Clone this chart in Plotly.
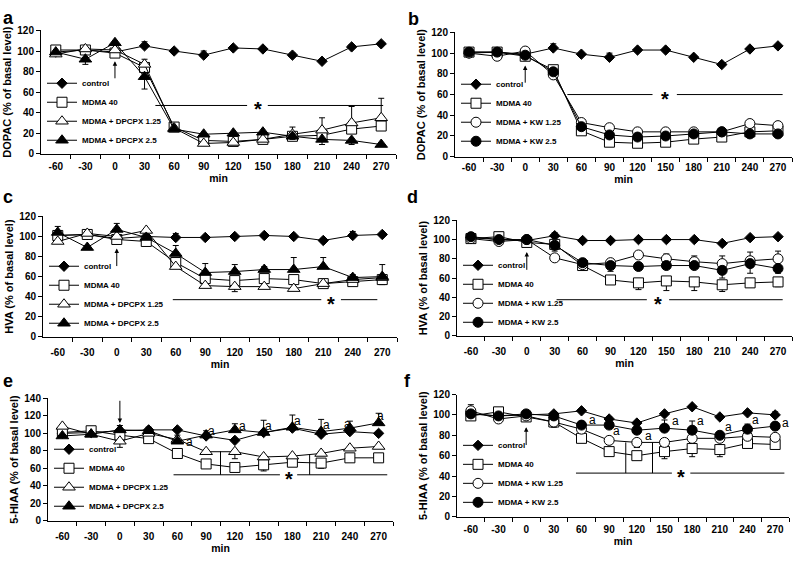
import plotly.graph_objects as go

W, H = 793, 561
FONT = "Liberation Sans"

minutes = [-60, -30, 0, 30, 60, 90, 120, 150, 180, 210, 240, 270]
tick_labels = ["-60", "-30", "0", "30", "60", "90", "120", "150", "180", "210", "240", "270"]

names_dpcpx = ["control", "MDMA 40", "MDMA + DPCPX 1.25", "MDMA + DPCPX 2.5"]
names_kw = ["control", "MDMA 40", "MDMA + KW 1.25", "MDMA + KW 2.5"]

# ---- Panel a: DOPAC, DPCPX
a_control = [99, 101, 99, 105, 100, 96, 103, 102, 96, 90, 104, 107]
a_mdma = [101, 101, 98, 84, 26, 13, 12, 14, 17, 18, 24, 27]
a_low = [97, 102, 101, 87, 25, 10, 11, 14, 19, 23, 30, 35]
a_high = [99, 92, 108, 75, 24, 19, 20, 21, 17, 14, 13, 9]
a_control_up = [2, 1, 1, 4, 1, 4, 1, 1, 2, 1, 2, 1]
a_mdma_up = [0, 0, 0, 0, 0, 0, 0, 0, 9, 0, 0, 0]
a_low_up = [0, 0, 0, 5, 0, 0, 0, 0, 0, 12, 16, 19]
a_low_down = [0, 0, 0, 0, 0, 2, 2, 0, 0, 0, 0, 0]
a_high_down = [0, 5, 0, 12, 0, 0, 0, 0, 3, 5, 4, 0]

# ---- Panel b: DOPAC, KW
b_control = [100, 101, 99, 105, 99, 96, 103, 103, 96, 89, 104, 107]
b_mdma = [101, 101, 97, 84, 25, 14, 13, 14, 17, 19, 24, 25]
b_low = [100, 97, 102, 79, 33, 28, 24, 24, 24, 24, 32, 30]
b_high = [101, 101, 98, 82, 29, 21, 19, 20, 22, 24, 22, 22]
b_control_up = [1, 1, 1, 4, 1, 4, 1, 1, 1, 1, 1, 1]
b_mdma_up = [0, 0, 0, 0, 0, 0, 0, 0, 0, 2, 0, 0]

# ---- Panel c: HVA, DPCPX
c_control = [101, 102, 98, 100, 99, 99, 100, 101, 100, 96, 101, 102]
c_mdma = [101, 102, 97, 95, 74, 58, 56, 58, 57, 53, 55, 57]
c_low = [95, 103, 100, 106, 70, 51, 50, 50, 48, 53, 57, 59]
c_high = [104, 89, 107, 99, 83, 64, 65, 67, 67, 70, 59, 60]
c_control_up = [1, 1, 1, 1, 4, 1, 1, 1, 1, 2, 4, 1]
c_mdma_down = [0, 0, 0, 0, 0, 0, 0, 0, 0, 0, 2, 5]
c_low_down = [0, 0, 0, 0, 0, 0, 5, 0, 0, 0, 0, 0]
c_high_up = [6, 0, 6, 0, 8, 9, 7, 3, 12, 9, 3, 12]

# ---- Panel d: HVA, KW
d_control = [102, 100, 99, 104, 99, 99, 100, 100, 100, 96, 102, 103]
d_mdma = [101, 103, 97, 95, 73, 58, 55, 57, 56, 53, 55, 56]
d_low = [101, 98, 100, 81, 74, 76, 84, 80, 77, 75, 78, 80]
d_high = [103, 100, 100, 94, 76, 73, 72, 73, 73, 68, 75, 70]
d_control_up = [1, 1, 1, 3, 1, 2, 1, 1, 1, 1, 1, 1]
d_mdma_down = [0, 0, 3, 0, 0, 2, 7, 10, 9, 7, 3, 5]
d_low_up = [0, 0, 0, 0, 0, 2, 0, 5, 6, 8, 9, 8]
d_high_down = [0, 0, 0, 6, 0, 6, 0, 0, 0, 8, 10, 5]

# ---- Panel e: 5-HIAA, DPCPX
e_control = [100, 101, 103, 104, 104, 97, 92, 101, 106, 99, 102, 100]
e_mdma = [101, 103, 98, 94, 77, 65, 61, 64, 67, 66, 72, 72]
e_low = [108, 99, 91, 100, 93, 79, 79, 73, 74, 77, 83, 85]
e_high = [97, 99, 104, 103, 91, 98, 104, 101, 107, 102, 106, 112]
e_mdma_down = [0, 0, 0, 0, 0, 0, 4, 7, 0, 6, 0, 0]
e_low_down = [0, 0, 7, 0, 0, 0, 8, 0, 0, 0, 0, 0]
e_high_up = [0, 0, 5, 4, 7, 5, 7, 14, 14, 14, 8, 11]

# ---- Panel f: 5-HIAA, KW
f_control = [101, 99, 100, 101, 104, 96, 92, 101, 108, 98, 102, 100]
f_mdma = [99, 103, 98, 93, 77, 64, 60, 64, 67, 66, 72, 71]
f_low = [104, 96, 99, 93, 86, 75, 73, 73, 77, 77, 79, 78]
f_high = [101, 99, 101, 99, 90, 90, 85, 87, 85, 80, 86, 89]
f_control_up = [0, 0, 0, 0, 0, 2, 0, 0, 0, 0, 0, 3]
f_mdma_down = [0, 0, 0, 5, 0, 0, 3, 7, 8, 7, 0, 0]
f_low_up = [6, 0, 0, 0, 0, 0, 0, 0, 0, 0, 0, 0]
f_low_down = [0, 0, 0, 0, 0, 0, 5, 0, 0, 0, 0, 0]
f_high_up = [0, 0, 0, 0, 0, 0, 0, 8, 9, 3, 5, 0]

# significance markers: line y, segments [x0, x1], star (x, y), verticals (x, ytop)
sig_a = dict(y=47, segs=[(41, 134), (155, 272)], star=(145, 47), vert=[])
sig_b = dict(y=60, segs=[(45, 136), (162, 275)], star=(149, 60), vert=[])
sig_c = dict(y=37, segs=[(57, 208), (228, 265)], star=(218, 37), vert=[])
sig_d = dict(y=37.5, segs=[(32, 129), (153, 275)], star=(141, 37.5), vert=[])
sig_e = dict(y=52.6, segs=[(56, 167), (185, 279)], star=(176, 52.6), vert=[(105, 79.5), (198, 76)])
sig_f = dict(y=42.9, segs=[(54, 158), (178, 280)], star=(168, 42.9), vert=[(108, 73), (137, 73)])

# injection arrows: (head y, tail y)
arrow_a = (90, 72)
arrow_b = (88, 70)
arrow_c = (88, 69)
arrow_d = (87, 67)
arrow_e = (112, 139)
arrow_f = (88, 69)

# "a" labels (x in min, y)
a_marks_e_x = [73, 96, 128, 155, 185, 216, 238, 272]
a_marks_e_y = [90, 103, 109, 109, 114, 110, 111, 120]
a_marks_f_x = [72, 98, 133, 162, 189, 219, 249, 281]
a_marks_f_y = [95, 84.5, 79, 94, 94, 88, 95, 92]

def mk(symbol, size, fill):
    return dict(symbol=symbol, size=size, color=fill, line=dict(color="black", width=1))

styles_dpcpx = [mk("diamond", 8, "black"), mk("square", 10, "white"),
                mk("triangle-up", 11, "white"), mk("triangle-up", 11, "black")]
styles_kw = [mk("diamond", 8, "black"), mk("square", 10, "white"),
             mk("circle", 10, "white"), mk("circle", 10, "black")]

Z = None

panels = [
    dict(letter="a", xpx=(41, 396), ypx=(25, 151), ymax=120, ytitle="DOPAC (% of basal level)",
         names=names_dpcpx, styles=styles_dpcpx,
         series=[(a_control, a_control_up, Z), (a_mdma, a_mdma_up, Z), (a_low, a_low_up, a_low_down), (a_high, Z, a_high_down)],
         sig=sig_a, arrow=arrow_a, amarks=None, lpos=(42, 152), letterpos=(8, 12), lab_off=3),
    dict(letter="b", xpx=(455, 792), ypx=(27, 154), ymax=120, ytitle="DOPAC (% of basal level)",
         names=names_kw, styles=styles_kw,
         series=[(b_control, b_control_up, Z), (b_mdma, b_mdma_up, Z), (b_low, Z, Z), (b_high, Z, Z)],
         sig=sig_b, arrow=arrow_b, amarks=None, lpos=(456, 153), letterpos=(413, 13), lab_off=1),
    dict(letter="c", xpx=(43, 397), ypx=(215, 338), ymax=120, ytitle="HVA (% of basal level)",
         names=names_dpcpx, styles=styles_dpcpx,
         series=[(c_control, c_control_up, Z), (c_mdma, Z, c_mdma_down), (c_low, Z, c_low_down), (c_high, c_high_up, Z)],
         sig=sig_c, arrow=arrow_c, amarks=None, lpos=(44, 339), letterpos=(8, 195), lab_off=6),
    dict(letter="d", xpx=(457, 792), ypx=(219, 337), ymax=120, ytitle="HVA (% of basal level)",
         names=names_kw, styles=styles_kw,
         series=[(d_control, d_control_up, Z), (d_mdma, Z, d_mdma_down), (d_low, d_low_up, Z), (d_high, Z, d_high_down)],
         sig=sig_d, arrow=arrow_d, amarks=None, lpos=(458, 338), letterpos=(412, 195), lab_off=6),
    dict(letter="e", xpx=(48, 393), ypx=(401, 526), ymax=140, ytitle="5-HIAA (% of basal level)",
         names=names_dpcpx, styles=styles_dpcpx,
         series=[(e_control, Z, Z), (e_mdma, Z, e_mdma_down), (e_low, Z, e_low_down), (e_high, e_high_up, Z)],
         sig=sig_e, arrow=arrow_e, amarks=(a_marks_e_x, a_marks_e_y), lpos=(49, 526), letterpos=(8, 383), lab_off=6),
    dict(letter="f", xpx=(457, 789), ypx=(397, 522), ymax=120, ytitle="5-HIAA (% of basal level)",
         names=names_kw, styles=styles_kw,
         series=[(f_control, f_control_up, Z), (f_mdma, Z, f_mdma_down), (f_low, f_low_up, f_low_down), (f_high, f_high_up, Z)],
         sig=sig_f, arrow=arrow_f, amarks=(a_marks_f_x, a_marks_f_y), lpos=(458, 522), letterpos=(407, 383), lab_off=3),
]

fig = go.Figure()
shapes, annotations = [], []
layout = {}
bold = dict(family=FONT, size=10, color="black", weight="bold")
boundaries = [m + 15 for m in minutes]

for i, p in enumerate(panels, start=1):
    sfx = "" if i == 1 else str(i)
    xr, yr = "x" + sfx, "y" + sfx
    leg = "legend" + sfx
    for (vals, up, down), name, st in zip(p["series"], p["names"], p["styles"]):
        err = None
        if up is not None or down is not None:
            err = dict(type="data", symmetric=False,
                       array=up if up is not None else [0] * len(vals),
                       arrayminus=down if down is not None else [0] * len(vals),
                       color="black", thickness=1, width=3)
        fig.add_trace(go.Scatter(
            x=minutes, y=vals, name=name, mode="lines+markers",
            line=dict(color="black", width=1), marker=st,
            error_y=err, xaxis=xr, yaxis=yr, legend=leg, cliponaxis=False))
    x0, x1 = p["xpx"]
    y0, y1 = p["ypx"]
    layout["xaxis" + sfx] = dict(
        domain=[x0 / W, x1 / W], range=[-75, 285], anchor=yr,
        tickmode="array", tickvals=minutes, ticktext=tick_labels, ticks="",
        ticklabelstandoff=p["lab_off"],
        minor=dict(tickmode="array", tickvals=boundaries, ticks="outside", ticklen=4,
                   tickwidth=1, tickcolor="black", showgrid=False),
        showline=True, linecolor="black", linewidth=1, showgrid=False, zeroline=False,
        tickfont=bold, title=dict(text="min", font=dict(bold, size=10.5), standoff=3))
    layout["yaxis" + sfx] = dict(
        domain=[1 - y1 / H, 1 - y0 / H], range=[0, p["ymax"]], anchor=xr,
        dtick=20, tick0=0, ticks="outside", ticklen=4, tickwidth=1, tickcolor="black",
        showline=True, linecolor="black", linewidth=1, showgrid=False, zeroline=False,
        tickfont=bold, title=dict(text=p["ytitle"], font=dict(bold, size=11), standoff=3))
    lx, ly = p["lpos"]
    layout[leg] = dict(x=lx / W, y=1 - ly / H, xanchor="left", yanchor="bottom",
                       bgcolor="rgba(0,0,0,0)", font=dict(bold, size=8),
                       tracegroupgap=0, itemwidth=30)
    sg = p["sig"]
    for (sa, sb) in sg["segs"]:
        shapes.append(dict(type="line", xref=xr, yref=yr, x0=sa, x1=sb, y0=sg["y"], y1=sg["y"],
                           line=dict(color="black", width=1)))
    for (vx, vt) in sg["vert"]:
        shapes.append(dict(type="line", xref=xr, yref=yr, x0=vx, x1=vx, y0=sg["y"], y1=vt,
                           line=dict(color="black", width=1)))
    annotations.append(dict(x=sg["star"][0], y=sg["star"][1], xref=xr, yref=yr, text="*",
                            showarrow=False, font=dict(bold, size=20), yanchor="middle", yshift=-4))
    hy, ty = p["arrow"]
    annotations.append(dict(x=0, y=hy, ax=0, ay=ty, xref=xr, yref=yr, axref=xr, ayref=yr,
                            text="", showarrow=True, arrowhead=2, arrowsize=0.9, arrowwidth=1,
                            arrowcolor="black"))
    if p["amarks"] is not None:
        for ax_, ay_ in zip(*p["amarks"]):
            annotations.append(dict(x=ax_, y=ay_, xref=xr, yref=yr, text="a", showarrow=False,
                                    font=dict(family=FONT, size=12, color="black")))
    lpx, lpy = p["letterpos"]
    annotations.append(dict(x=lpx / W, y=1 - lpy / H, xref="paper", yref="paper", text=p["letter"],
                            showarrow=False, xanchor="center", yanchor="middle",
                            font=dict(bold, size=18)))

fig.update_layout(**layout)
fig.update_layout(width=W, height=H, margin=dict(l=0, r=0, t=0, b=0),
                  paper_bgcolor="white", plot_bgcolor="white",
                  shapes=shapes, annotations=annotations, showlegend=True,
                  font=dict(family=FONT, color="black"))
fig.write_html("out.html", config={"displayModeBar": False},
               post_script="document.body.style.margin='0';document.body.style.overflow='hidden';")
